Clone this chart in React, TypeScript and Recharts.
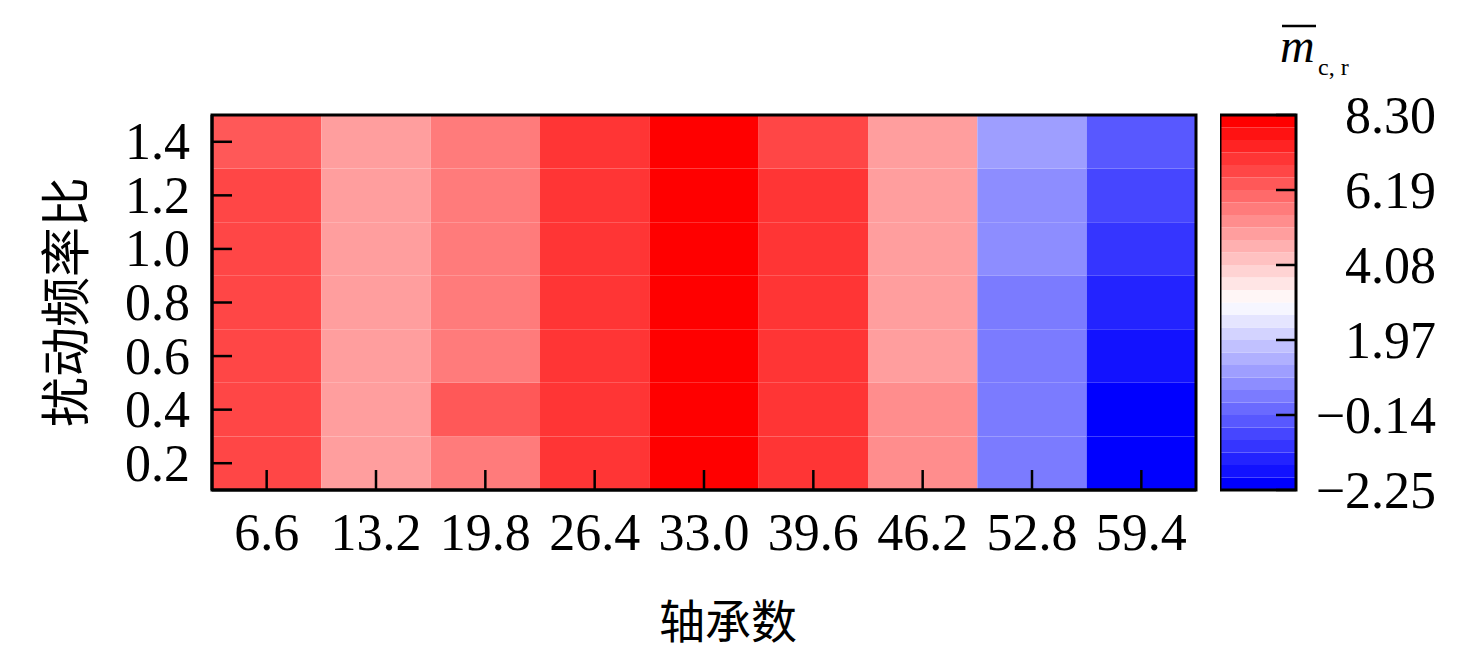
import React from 'react';
import { ComposedChart, XAxis, YAxis, ReferenceArea, Label, Scatter } from 'recharts';

// bearing number (x) and disturbance frequency ratio (y)
const bearingNumbers = [6.6, 13.2, 19.8, 26.4, 33.0, 39.6, 46.2, 52.8, 59.4];
const freqRatios = [0.2, 0.4, 0.6, 0.8, 1.0, 1.2, 1.4];

// m_c,r per column, rows in the same order as freqRatios (0.2 -> 1.4)
const col66 = [6.72, 6.7, 6.68, 6.66, 6.63, 6.6, 6.4];
const col132 = [4.95, 4.97, 4.98, 4.99, 5.0, 5.01, 4.98];
const col198 = [5.7, 6.3, 5.68, 5.66, 5.65, 5.66, 5.64];
const col264 = [7.1, 7.1, 7.09, 7.08, 7.07, 7.06, 7.04];
const col330 = [8.3, 8.29, 8.27, 8.25, 8.22, 8.18, 8.12];
const col396 = [7.05, 7.04, 7.03, 7.01, 6.98, 6.95, 6.7];
const col462 = [5.35, 5.2, 5.05, 5.0, 4.98, 4.97, 4.96];
const col528 = [0.4, 0.42, 0.44, 0.5, 0.65, 0.78, 1.05];
const col594 = [-2.25, -1.98, -1.7, -1.3, -1.0, -0.7, -0.35];
const columns = [col66, col132, col198, col264, col330, col396, col462, col528, col594];

const colorbarTicks = [-2.25, -0.14, 1.97, 4.08, 6.19, 8.3];
const V_MIN = -2.25;
const V_MAX = 8.3;
const LEVELS = 30;

const SERIF = '"Liberation Serif", "Times New Roman", serif';
const CJK = '"Noto Sans CJK SC", "Noto Sans", sans-serif';

// discrete bwr colormap
const levelColor = (i: number) => {
  const t = i / (LEVELS - 1);
  const to = (c: number) => Math.round(c * 255);
  if (t < 0.5) return `rgb(${to(2 * t)},${to(2 * t)},255)`;
  return `rgb(255,${to(2 * (1 - t))},${to(2 * (1 - t))})`;
};
const valueColor = (v: number) => {
  const i = Math.min(LEVELS - 1, Math.max(0, Math.floor(((v - V_MIN) / (V_MAX - V_MIN)) * LEVELS)));
  return levelColor(i);
};

const dx = (bearingNumbers[1] - bearingNumbers[0]) / 2;
const dy = (freqRatios[1] - freqRatios[0]) / 2;

const cells = bearingNumbers.flatMap((x, ci) =>
  freqRatios.map((y, ri) => ({ x, y, v: columns[ci][ri] }))
);

const bands = Array.from({ length: LEVELS }, (_, i) => ({
  y1: V_MIN + ((V_MAX - V_MIN) * i) / LEVELS,
  y2: V_MIN + ((V_MAX - V_MIN) * (i + 1)) / LEVELS,
  color: levelColor(i),
}));
const bandEnds = [{ x: 0, v: V_MIN }, { x: 1, v: V_MAX }];

const Nothing = () => <g />;

const XTick = ({ x, y, payload }: any) => (
  <g>
    <line x1={x} x2={x} y1={y} y2={y - 20} stroke="#000" strokeWidth={2.5} />
    <text x={x} y={y + 42} textAnchor="middle" dominantBaseline="central" fontFamily={SERIF} fontSize={52} fill="#000">
      {Number(payload.value).toFixed(1)}
    </text>
  </g>
);

const YTick = ({ x, y, payload }: any) => (
  <g>
    <line x1={x} x2={x + 20} y1={y} y2={y} stroke="#000" strokeWidth={2.5} />
    <text x={x - 22} y={y} textAnchor="end" dominantBaseline="central" fontFamily={SERIF} fontSize={52} fill="#000">
      {Number(payload.value).toFixed(1)}
    </text>
  </g>
);

const CbTick = ({ x, y, payload }: any) => (
  <g>
    <line x1={x} x2={x - 20} y1={y} y2={y} stroke="#000" strokeWidth={2.5} />
    <text x={x + 140} y={y} textAnchor="end" dominantBaseline="central" fontFamily={SERIF} fontSize={52} fill="#000">
      {Number(payload.value).toFixed(2).replace('-', '\u2212')}
    </text>
  </g>
);

const App: React.FC = () => {
  const xDomain = [bearingNumbers[0] - dx, bearingNumbers[bearingNumbers.length - 1] + dx];
  const yDomain = [freqRatios[0] - dy, freqRatios[freqRatios.length - 1] + dy];
  return (
    <div style={{ position: 'absolute', left: 0, top: 0, width: 1476, height: 653, background: '#fff' }}>
      <div style={{ position: 'absolute', left: 0, top: 0 }}>
        <ComposedChart width={1476} height={653} data={cells} margin={{ top: 115, right: 280, bottom: 103, left: 0 }}>
          <XAxis
            type="number"
            dataKey="x"
            domain={xDomain}
            ticks={bearingNumbers}
            tickSize={0}
            tickMargin={0}
            tick={<XTick />}
            height={60}
            axisLine={{ stroke: '#000', strokeWidth: 3 }}
            interval={0}
          >
            <Label
              content={() => (
                <text x={728} y={618} textAnchor="middle" dominantBaseline="central" fontFamily={CJK} fontSize={46} fill="#000">
                  轴承数
                </text>
              )}
            />
          </XAxis>
          <YAxis
            type="number"
            dataKey="y"
            domain={yDomain}
            ticks={freqRatios}
            tickSize={0}
            tickMargin={0}
            tick={<YTick />}
            width={212}
            axisLine={{ stroke: '#000', strokeWidth: 3 }}
            interval={0}
          >
            <Label
              content={() => (
                <text
                  x={62}
                  y={302}
                  transform="rotate(-90 62 302)"
                  textAnchor="middle"
                  dominantBaseline="central"
                  fontFamily={CJK}
                  fontSize={50}
                  fill="#000"
                >
                  扰动频率比
                </text>
              )}
            />
          </YAxis>
          {cells.map((c, i) => (
            <ReferenceArea
              key={`cell-${i}`}
              x1={c.x - dx}
              x2={c.x + dx}
              y1={c.y - dy}
              y2={c.y + dy}
              fill={valueColor(c.v)}
              fillOpacity={1}
              stroke="none"
            />
          ))}
          <ReferenceArea
            x1={xDomain[0]}
            x2={xDomain[1]}
            y1={yDomain[0]}
            y2={yDomain[1]}
            fill="none"
            stroke="#000"
            strokeWidth={3}
            strokeOpacity={1}
          />
          <Scatter data={cells} dataKey="y" shape={<Nothing />} isAnimationActive={false} />
        </ComposedChart>
      </div>
      <div style={{ position: 'absolute', left: 1220, top: 0 }}>
        <ComposedChart width={256} height={653} data={bandEnds} margin={{ top: 115, right: 0, bottom: 163, left: 0 }}>
          <XAxis type="number" dataKey="x" domain={[0, 1]} hide />
          <YAxis
            type="number"
            dataKey="v"
            orientation="right"
            domain={[V_MIN, V_MAX]}
            ticks={colorbarTicks}
            tickSize={0}
            tickMargin={0}
            tick={<CbTick />}
            width={180}
            axisLine={false}
            interval={0}
          >
            <Label
              content={() => (
                <g>
                  <line x1={62} x2={96} y1={26} y2={26} stroke="#000" strokeWidth={2.5} />
                  <text x={60} y={62} fontFamily={SERIF} fontSize={48} fontStyle="italic" fill="#000">
                    m
                  </text>
                  <text x={98} y={75} fontFamily={SERIF} fontSize={24} fill="#000">
                    c, r
                  </text>
                </g>
              )}
            />
          </YAxis>
          {bands.map((b, i) => (
            <ReferenceArea
              key={`band-${i}`}
              x1={0}
              x2={1}
              y1={b.y1}
              y2={b.y2}
              fill={b.color}
              fillOpacity={1}
              stroke="none"
            />
          ))}
          <ReferenceArea x1={0} x2={1} y1={V_MIN} y2={V_MAX} fill="none" stroke="#000" strokeWidth={3} strokeOpacity={1} />
          <Scatter data={bandEnds} dataKey="v" shape={<Nothing />} isAnimationActive={false} />
        </ComposedChart>
      </div>
    </div>
  );
};

export default App;
